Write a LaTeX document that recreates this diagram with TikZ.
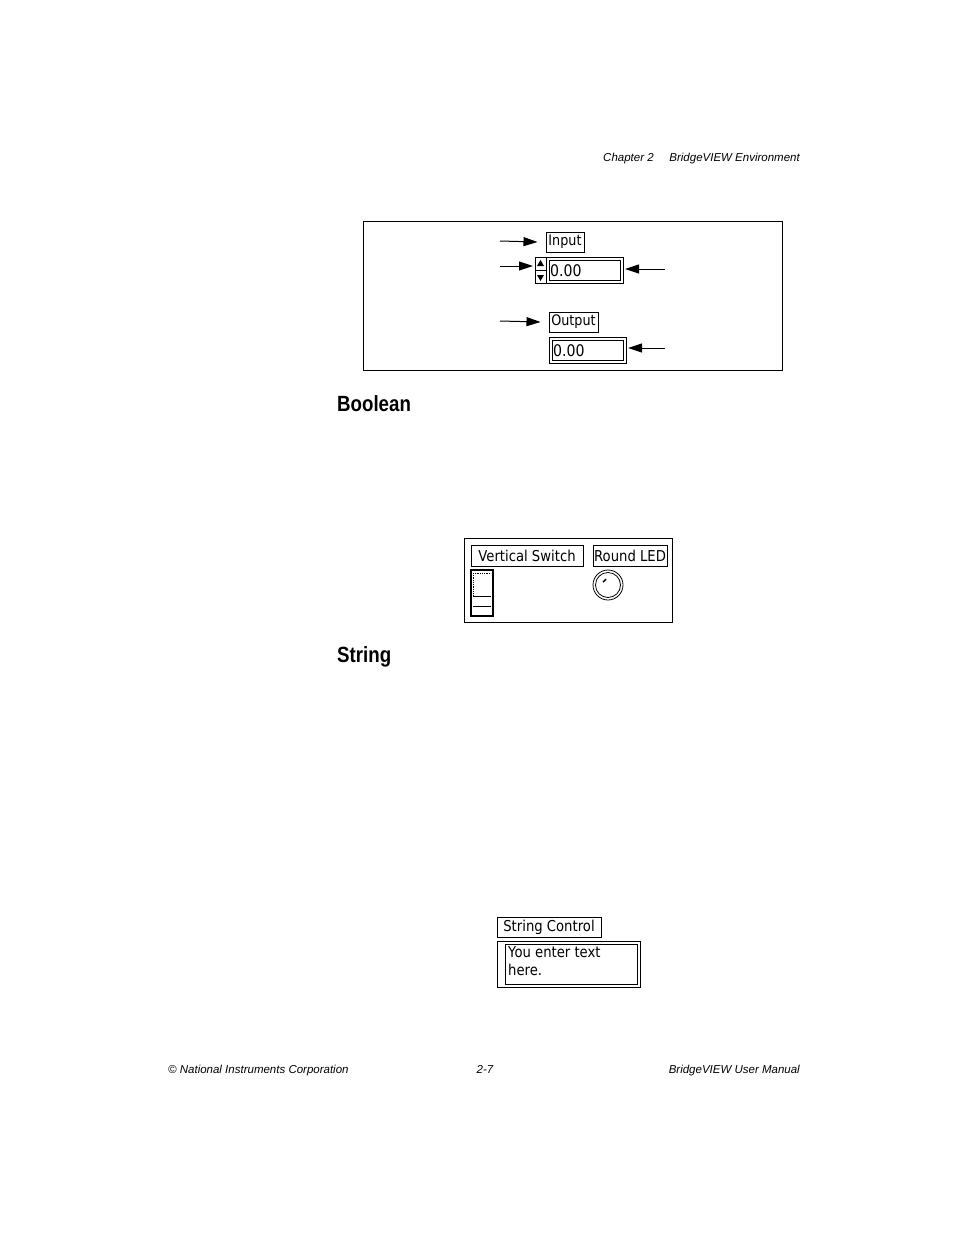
\documentclass[tikz,border=0pt]{standalone}
\usepackage{fontspec}
\usepackage{graphicx}
\setmainfont{Liberation Sans}
\newfontfamily\wid{DejaVu Sans}
\newcommand{\nx}[1]{\scalebox{0.88}[1]{#1}}
\usetikzlibrary{arrows.meta}
\begin{document}
\begin{tikzpicture}[x=1pt,y=-1pt,
  hdr/.style={font=\fontsize{11.5}{12}\selectfont\itshape,inner sep=0},
  head/.style={font=\fontsize{22}{24}\selectfont\bfseries,inner sep=0,anchor=west,xscale=0.85},
  wf/.style={font=\wid\fontsize{#1}{#1}\selectfont},
  lb/.style={draw,line width=1pt,minimum height=20pt,inner sep=0},
  arr/.style={-{Triangle[length=14pt,width=9pt]},line width=1pt},
  dbl/.style={draw,line width=1pt}]
\useasboundingbox (0,0) rectangle (954,1235);
\fill[white] (0,0) rectangle (954,1235);
\node[hdr,anchor=base west] (c2) at (603,161) {Chapter 2};
\node[hdr,anchor=base east] (be) at (800,161) {BridgeVIEW Environment};
% box 1
\draw[line width=0.7pt] (363,221) rectangle (782,370);
\node[lb,minimum width=38pt,wf=14.5] (in) at (565,242) {\nx{Input}};
\draw[dbl] (535,257) rectangle (546,283);
\draw (535,270) -- (546,270);
\fill (540.5,260) -- (537,266) -- (544,266) -- cycle;
\fill (540.5,281) -- (537,275) -- (544,275) -- cycle;
\coordinate (sp) at (533,266);
\draw[dbl] (546,257) rectangle (623,283);
\draw[line width=0.8pt] (549,260) rectangle (620,280);
\node[anchor=west,inner sep=0,wf=16] (iv) at (550,270.5) {\nx{0.00}};
\node[lb,minimum width=49pt,wf=14.5] (out) at (573.5,322) {\nx{Output}};
\draw[dbl] (549,337) rectangle (626,363);
\draw[line width=0.8pt] (552,340) rectangle (623,360);
\node[anchor=west,inner sep=0,wf=16] (ov) at (553,350.5) {\nx{0.00}};
\coordinate (a1) at (500,241); \coordinate (a2) at (500,266);
\coordinate (a3) at (665,269); \coordinate (a4) at (500,321);
\coordinate (a5) at (665,348);
\draw[arr] (a1) -- ([xshift=-8pt]in.west);
\draw[arr] (a2) -- (sp);
\draw[arr] (a3) -- (625,269);
\draw[arr] (a4) -- ([xshift=-8pt]out.west);
\draw[arr] (a5) -- (628,348);
\node[head] (bool) at (337,404) {Boolean};
% box 2
\draw[line width=0.7pt] (464,538) rectangle (672,622);
\node[lb,minimum width=112pt,minimum height=21pt,wf=15] (vs) at (527,555.5) {\nx{Vertical Switch}};
\node[lb,minimum width=74pt,minimum height=21pt,wf=15] (rl) at (630,555.5) {\nx{Round LED}};
\draw[line width=1.2pt] (471,570) rectangle (493,616);
\draw[densely dotted,line width=0.8pt] (473,573) -- (491,573) (473,573) -- (473,595);
\draw[line width=0.8pt] (473,596) -- (491,596) (473,606) -- (491,606);
\draw[line width=0.8pt] (608,585) circle (15);
\draw[line width=0.8pt] (608,585) circle (12.5);
\draw[line width=1.4pt] (603,582) -- (606,579);
\node[head] (str) at (337,657) {String};
% string control
\node[lb,minimum width=104pt,wf=15] (sc) at (549,927) {\nx{String Control}};
\draw[dbl] (497,941) rectangle (640,987);
\draw[line width=0.8pt] (505,944) rectangle (637,984);
\node[anchor=north west,align=left,inner sep=0,wf=15] (tx) at (508,946) {\nx{You enter text}\\[3pt]\nx{here.}};
% footer
\node[hdr,anchor=base west] (f1) at (168,1073) {© National Instruments Corporation};
\node[hdr,anchor=base] (f2) at (485,1073) {2-7};
\node[hdr,anchor=base east] (f3) at (800,1073) {BridgeVIEW User Manual};
\end{tikzpicture}
\end{document}
